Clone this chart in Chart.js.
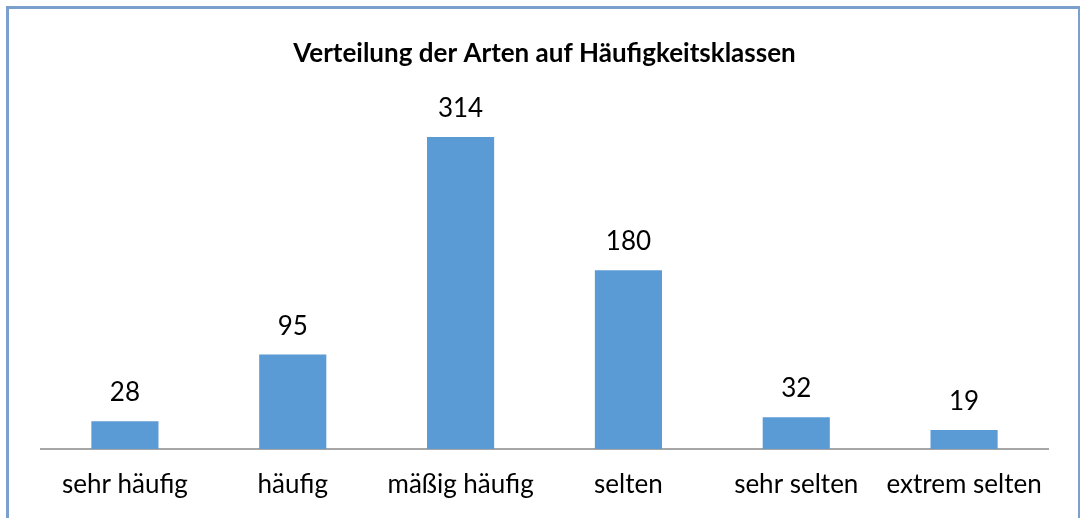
<!DOCTYPE html>
<html><head><meta charset="utf-8">
<script src="https://cdn.jsdelivr.net/npm/chart.js@4"></script>
<style>
html,body{margin:0;padding:0;background:#fff;overflow:hidden}
#wrap{position:absolute;left:0;top:0;width:1081px;height:518px}
#frame{position:absolute;left:6px;top:6px;width:1074px;height:520px;border-left:3px solid #7BA0CD;border-top:3px solid #7BA0CD;border-right:2px solid #7BA0CD;box-sizing:border-box}
canvas{position:absolute;left:0;top:0}
</style></head>
<body>
<div id="wrap"><div id="frame"></div><canvas id="c" width="1081" height="518"></canvas></div>
<script>
const categories = ["sehr häufig","häufig","mäßig häufig","selten","sehr selten","extrem selten"];
const counts = [28, 95, 314, 180, 32, 19];
const titleText = "Verteilung der Arten auf Häufigkeitsklassen";
const FONT = "Lato, 'Open Sans', sans-serif";

const valueLabels = {
  id: 'valueLabels',
  afterDatasetsDraw(chart) {
    const ctx = chart.ctx;
    const meta = chart.getDatasetMeta(0);
    ctx.save();
    ctx.font = "26px " + FONT;
    ctx.fillStyle = "#000";
    ctx.textAlign = "center";
    ctx.textBaseline = "alphabetic";
    meta.data.forEach((bar, i) => {
      ctx.fillText(String(counts[i]), bar.x, bar.y - 20);
    });
    ctx.restore();
  }
};

new Chart(document.getElementById('c'), {
  type: 'bar',
  data: {
    labels: categories,
    datasets: [{
      data: counts,
      backgroundColor: '#5B9BD5',
      borderWidth: 0,
      barPercentage: 0.4,
      categoryPercentage: 1.0
    }]
  },
  options: {
    responsive: false,
    animation: false,
    devicePixelRatio: 1,
    layout: { padding: { left: 41, right: 33, top: 0, bottom: 0 } },
    plugins: {
      legend: { display: false },
      tooltip: { enabled: false },
      title: {
        display: true,
        text: titleText,
        color: '#000',
        font: { family: FONT, size: 26, weight: 'bold', lineHeight: 1.2 },
        padding: { top: 38, bottom: 32 }
      }
    },
    scales: {
      y: { display: false, min: 0, max: 350 },
      x: {
        grid: { display: false, drawTicks: false },
        border: { display: true, color: '#A6A6A6', width: 2 },
        ticks: { color: '#000', font: { family: FONT, size: 26 }, padding: 20, maxRotation: 0, autoSkip: false },
        afterFit(scale) { scale.height = 69; }
      }
    }
  },
  plugins: [valueLabels]
});
</script>
</body></html>
